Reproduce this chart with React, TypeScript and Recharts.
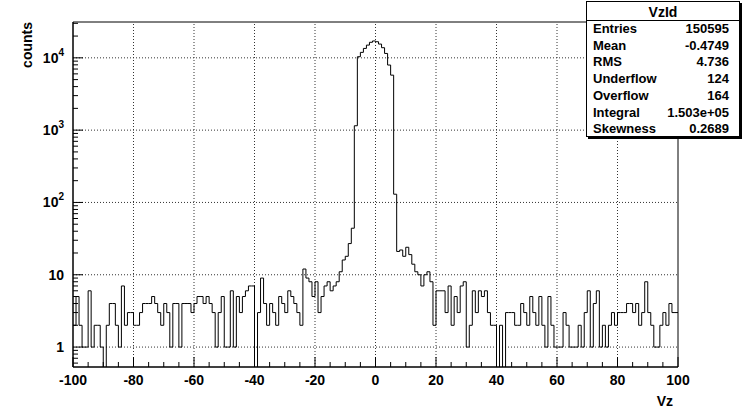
import { LineChart, Line, XAxis, YAxis, ReferenceLine, ReferenceArea } from 'recharts';

// histogram VzId: 200 bins of width 1 from -100 to 100
const xLow = -100;
const xHigh = 100;
const counts = [
  2, 5, 2, 1, 1, 6, 1, 2, 2, 1,
  0, 2, 4, 4, 2, 1, 7, 2, 3, 3,
  2, 2, 3, 4, 4, 4, 5, 4, 3, 2,
  4, 3, 1, 4, 4, 1, 4, 4, 4, 3,
  4, 5, 5, 4, 5, 4, 3, 1, 3, 5,
  1, 1, 6, 1, 5, 3, 5, 6, 7, 7,
  0, 3, 9, 4, 2, 4, 3, 2, 5, 4,
  3, 6, 5, 4, 3, 2, 12, 9, 8, 5,
  8, 3, 5, 7, 8, 6, 7, 8, 11, 16,
  18, 27, 44, 1150, 10360, 11900, 13500, 15000, 16400, 17100,
  16700, 15500, 13800, 11500, 7950, 5760, 130, 21, 22, 18,
  24, 19, 14, 11, 10, 7, 10, 11, 8, 2,
  6, 6, 6, 3, 7, 2, 5, 3, 7, 8,
  1, 2, 6, 3, 6, 5, 6, 3, 2, 2,
  0, 2, 0, 3, 3, 3, 2, 2, 4, 3,
  2, 5, 3, 2, 5, 2, 1, 5, 2, 1,
  1, 1, 3, 2, 1, 1, 1, 2, 1, 3,
  6, 1, 4, 6, 1, 2, 1, 2, 3, 2,
  3, 3, 3, 4, 4, 3, 4, 2, 3, 8,
  3, 2, 1, 1, 2, 3, 2, 4, 3, 3,
];

const yMin = 0.53;
const yMax = 31300;
const xGrid = [-80, -60, -40, -20, 0, 20, 40, 60, 80];
const yGrid = [1, 10, 100, 1000, 10000];
const decades = [0.1, 1, 10, 100, 1000, 10000];

const statNames = ['Entries', 'Mean', 'RMS', 'Underflow', 'Overflow', 'Integral', 'Skewness'];
const statValues = ['150595', '-0.4749', '4.736', '124', '164', '1.503e+05', '0.2689'];

const xTicks: number[] = [];
for (let v = xLow; v <= xHigh; v += 5) xTicks.push(v);
const yTicks: number[] = [];
decades.forEach((d) => {
  for (let m = 1; m < 10; m++) {
    const v = +(d * m).toPrecision(3);
    if (v >= yMin && v <= yMax) yTicks.push(v);
  }
});

// zero bins fall to the frame bottom (clipped)
const data = counts.map((c, i) => ({ x: xLow + i, y: Math.max(c, 0.1) }));
data.push({ x: xHigh, y: data[data.length - 1].y });

const font = '"Liberation Sans", Arial, Helvetica, sans-serif';

function XTick(props: any) {
  const { x, y, payload } = props;
  const v = payload.value;
  const major = v % 20 === 0;
  return (
    <g>
      <line x1={x} y1={y} x2={x} y2={y - (major ? 10 : 5)} stroke="#000" />
      {major && (
        <text x={x} y={y + 18} textAnchor="middle" fontSize={14} fontWeight="bold" fontFamily={font} fill="#000">
          {v}
        </text>
      )}
    </g>
  );
}

function YTick(props: any) {
  const { x, y, payload } = props;
  const v = payload.value;
  const lg = Math.log10(v);
  const e = Math.round(lg);
  const major = Math.abs(lg - e) < 1e-6;
  return (
    <g>
      <line x1={x} y1={y} x2={x + (major ? 10 : 5)} y2={y} stroke="#000" />
      {major && (
        <text x={x - 9} y={y + 5} textAnchor="end" fontSize={14} fontWeight="bold" fontFamily={font} fill="#000">
          {e < 2 ? (
            String(v)
          ) : (
            <>
              <tspan>10</tspan>
              <tspan dy={-7} fontSize={10}>{e}</tspan>
            </>
          )}
        </text>
      )}
    </g>
  );
}

export default function App() {
  return (
    <div style={{ position: 'absolute', left: 0, top: 0, width: 745, height: 412, background: '#fff', fontFamily: font }}>
      <LineChart width={745} height={412} data={data} margin={{ top: 22, right: 67, bottom: 15, left: 13 }}>
        <XAxis
          dataKey="x"
          type="number"
          domain={[xLow, xHigh]}
          ticks={xTicks}
          interval={0}
          allowDataOverflow
          height={30}
          tickSize={0}
          tickMargin={0}
          tickLine={false}
          axisLine={{ stroke: '#000' }}
          tick={(p: any) => <XTick {...p} />}
        />
        <YAxis
          type="number"
          scale="log"
          domain={[yMin, yMax]}
          ticks={yTicks}
          interval={0}
          allowDataOverflow
          width={60}
          tickSize={0}
          tickMargin={0}
          tickLine={false}
          axisLine={{ stroke: '#000' }}
          tick={(p: any) => <YTick {...p} />}
        />
        {xGrid.map((v) => (
          <ReferenceLine key={'gx' + v} x={v} stroke="#333" strokeDasharray="1 2" />
        ))}
        {yGrid.map((v) => (
          <ReferenceLine key={'gy' + v} y={v} stroke="#333" strokeDasharray="1 2" />
        ))}
        <Line
          dataKey="y"
          type="stepAfter"
          stroke="#000"
          strokeWidth={1}
          dot={false}
          activeDot={false}
          isAnimationActive={false}
        />
        <ReferenceArea x1={xLow} x2={xHigh} y1={yMin} y2={yMax} fill="none" fillOpacity={0} stroke="#000" ifOverflow="visible" />
      </LineChart>

      <svg width={745} height={412} style={{ position: 'absolute', left: 0, top: 0, pointerEvents: 'none' }}>
        <text transform="translate(32,22) rotate(-90)" textAnchor="end" fontSize={14} fontWeight="bold" fontFamily={font} fill="#000">
          counts
        </text>
        <text x={673} y={406} textAnchor="end" fontSize={14} fontWeight="bold" fontFamily={font} fill="#000">
          Vz
        </text>
      </svg>

      <div
        style={{
          position: 'absolute',
          left: 586,
          top: 1,
          width: 152,
          height: 134,
          border: '1px solid #000',
          background: '#fff',
          boxShadow: '2px 2px 0 #000',
          fontWeight: 'bold',
          fontSize: 13,
          color: '#000',
        }}
      >
        <div style={{ height: 18, lineHeight: '20px', borderBottom: '1px solid #000', textAlign: 'center', fontSize: 14 }}>
          VzId
        </div>
        {statNames.map((n, i) => (
          <div
            key={n}
            style={{
              position: 'absolute',
              left: 6,
              right: 10,
              top: 18 + i * 16.7,
              height: 17,
              lineHeight: '17px',
              display: 'flex',
              justifyContent: 'space-between',
            }}
          >
            <span>{n}</span>
            <span>{statValues[i]}</span>
          </div>
        ))}
      </div>
    </div>
  );
}
